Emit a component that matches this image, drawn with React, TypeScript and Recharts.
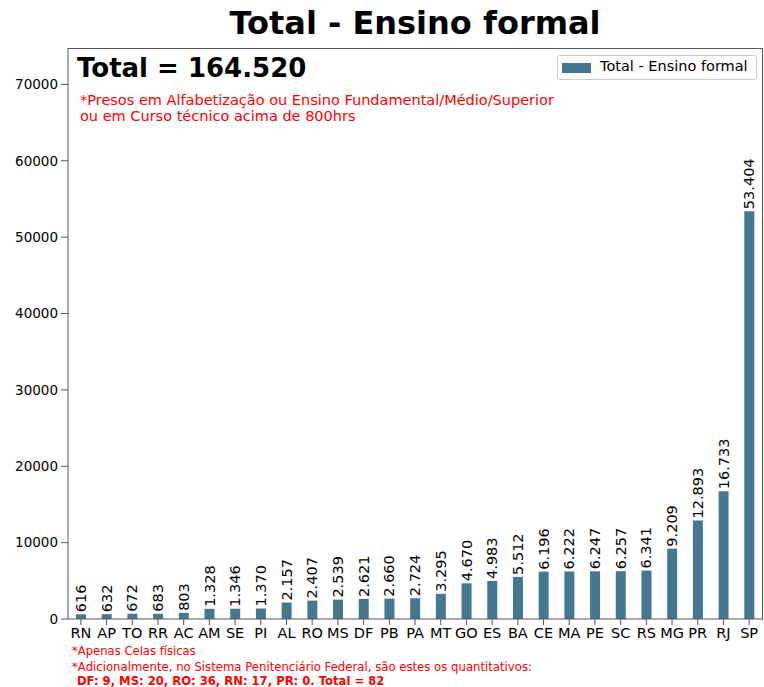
import React from "react";
import { BarChart, Bar, XAxis, YAxis, LabelList } from "recharts";

const states = ["RN","AP","TO","RR","AC","AM","SE","PI","AL","RO","MS","DF","PB","PA","MT","GO","ES","BA","CE","MA","PE","SC","RS","MG","PR","RJ","SP"];
const values = [616,632,672,683,803,1328,1346,1370,2157,2407,2539,2621,2660,2724,3295,4670,4983,5512,6196,6222,6247,6257,6341,9209,12893,16733,53404];
const yTicks = [0,10000,20000,30000,40000,50000,60000,70000];
const seriesName = "Total - Ensino formal";
const totalText = "Total = 164.520";
const noteTop = ["*Presos em Alfabetização ou Ensino Fundamental/Médio/Superior", "ou em Curso técnico acima de 800hrs"];
const noteBottom1 = "*Apenas Celas físicas";
const noteBottom2 = "*Adicionalmente, no Sistema Penitenciário Federal, são estes os quantitativos:";
const noteBottom3 = "DF: 9, MS: 20, RO: 36, RN: 17, PR: 0. Total = 82";

const data = states.map((s, i) => ({ uf: s, v: values[i] }));
const yMax = 53404 * 1.4;

const fmt = (n: number) => String(n).replace(/\B(?=(\d{3})+(?!\d))/g, ".");

const FONT = "DejaVu Sans, sans-serif";
const BAR = "#457890";
const AX = "#555";

const ValueLabel = (props: any) => {
  const { x, y, width, value } = props;
  const cx = x + width / 2;
  const ty = y - 2;
  return (
    <text
      x={cx}
      y={ty}
      transform={`rotate(-90, ${cx}, ${ty})`}
      textAnchor="start"
      dominantBaseline="central"
      fontSize={14.5}
      fontFamily={FONT}
      fill="#000"
    >
      {fmt(value)}
    </text>
  );
};

export default function App() {
  return (
    <div style={{ position: "absolute", left: 0, top: 0, width: 764, height: 687, background: "#fff", fontFamily: FONT }}>
      <BarChart width={764} height={687} data={data} margin={{ top: 48, right: 2, left: 0, bottom: 0 }}>
        <XAxis
          dataKey="uf"
          height={68}
          interval={0}
          tickSize={6}
          stroke={AX}
          tick={{ fill: "#000", fontSize: 14.5, fontFamily: FONT, dy: 1 }}
          tickLine={{ stroke: AX }}
        />
        <YAxis
          width={68}
          domain={[0, yMax]}
          ticks={yTicks}
          tickSize={7}
          tickMargin={3}
          stroke={AX}
          allowDataOverflow
          tick={{ fill: "#000", fontSize: 13.5, fontFamily: FONT }}
          tickLine={{ stroke: AX }}
        />
        <Bar dataKey="v" fill={BAR} barSize={10} isAnimationActive={false} name={seriesName}>
          <LabelList dataKey="v" content={ValueLabel} />
        </Bar>
      </BarChart>
      <div style={{ position: "absolute", left: 68, top: 48, width: 695, height: 572, borderTop: "1px solid " + AX, borderRight: "1px solid " + AX, boxSizing: "border-box", pointerEvents: "none" }} />
      <div style={{ position: "absolute", left: 0, width: 830, top: 4, textAlign: "center", fontWeight: "bold", fontSize: 32, color: "#000" }}>
        {seriesName}
      </div>
      <div style={{ position: "absolute", left: 77, top: 53, fontWeight: "bold", fontSize: 26, color: "#000" }}>{totalText}</div>
      <div style={{ position: "absolute", left: 80, top: 92, fontSize: 14.5, lineHeight: "16px", color: "#f00", whiteSpace: "nowrap" }}>
        {noteTop.map((t, i) => (<div key={i}>{t}</div>))}
      </div>
      <div style={{ position: "absolute", left: 557, top: 55, width: 200, height: 25, border: "1px solid #ccc", borderRadius: 3, boxSizing: "border-box" }}>
        <div style={{ position: "absolute", left: 4, top: 7, width: 29, height: 10, background: BAR }} />
        <div style={{ position: "absolute", left: 42, top: 2, fontSize: 14.5, color: "#000", whiteSpace: "nowrap" }}>{seriesName}</div>
      </div>
      <div style={{ position: "absolute", left: 72, top: 644, fontSize: 11.6, color: "#f00", whiteSpace: "nowrap" }}>{noteBottom1}</div>
      <div style={{ position: "absolute", left: 72, top: 660, fontSize: 11.7, color: "#f00", whiteSpace: "nowrap" }}>{noteBottom2}</div>
      <div style={{ position: "absolute", left: 77, top: 674, fontSize: 11.6, fontWeight: "bold", color: "#f00", whiteSpace: "nowrap" }}>{noteBottom3}</div>
    </div>
  );
}
